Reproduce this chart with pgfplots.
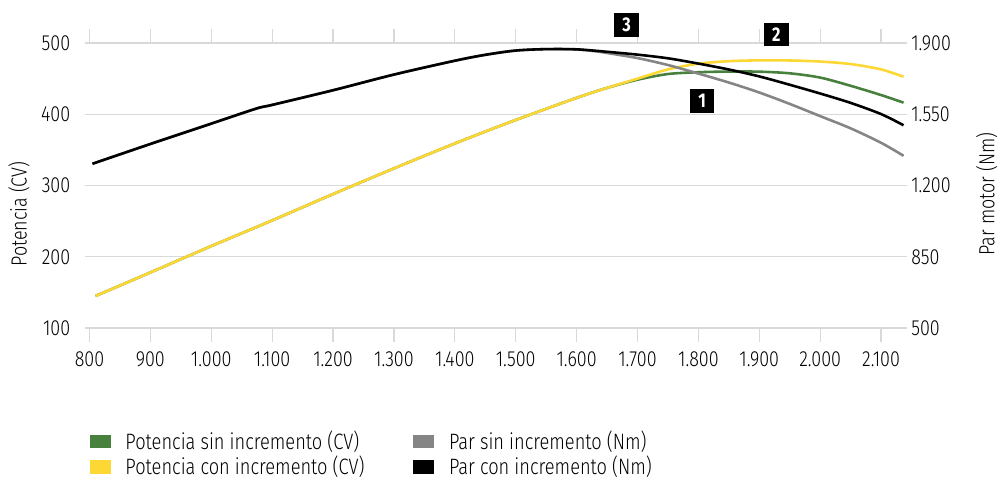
\documentclass[border=0pt]{standalone}
\usepackage{fontspec}
\setmainfont{Fira Sans Light}[FakeStretch=0.82, BoldFont={Fira Sans Bold}]
\usepackage{pgfplots}
\pgfplotsset{compat=1.18}

\definecolor{cgreen}{HTML}{48803E}
\definecolor{cyellow}{HTML}{FDD835}
\definecolor{cgray}{HTML}{858585}
\definecolor{cgrid}{HTML}{D9D9D9}

\begin{document}
\begin{tikzpicture}
\pgfplotsset{
  base/.style={
    width=413.6pt, height=143.4pt, scale only axis,
    xmin=793, xmax=2143,
    axis line style={draw=none},
    clip=false,
    tick label style={font=\fontsize{11}{13}\selectfont},
    label style={font=\fontsize{11}{13}\selectfont},
    /pgf/number format/1000 sep={.},
    /pgf/number format/assume math mode=true,
  },
}

% potencia (eje izquierdo)
\begin{axis}[base,
  ymin=100, ymax=500, ytick={100,200,300,400,500},
  ymajorgrids, grid style={draw=cgrid, line width=0.6pt},
  xtick={800,900,...,2100},
  tick align=outside, major tick length=7pt,
  xtick style={draw=cgrid, line width=0.6pt},
  ytick style={draw=none},
  yticklabel style={anchor=east, xshift=3pt},
  xticklabel style={yshift=-1.5pt},
  ylabel={Potencia (CV)},
  ylabel style={at={(axis description cs:-0.0806,0.40)}, anchor=center},
]
\path (rel axis cs:-0.1036,-0.509) rectangle (rel axis cs:1.110,1.151);

\addplot[cgreen, line width=1.3pt, smooth] coordinates {
  (810,145) (900,178) (1000,215) (1100,251) (1200,288) (1300,324)
  (1400,359) (1500,392) (1600,423) (1650,437) (1700,448.5) (1750,456.5)
  (1800,459) (1850,460) (1900,459.8) (1950,457.5) (2000,451.5)
  (2050,440) (2100,427) (2137,416.3)
};
\addplot[cyellow, line width=1.3pt, smooth] coordinates {
  (810,145) (900,178) (1000,215) (1100,251) (1200,288) (1300,324)
  (1400,359) (1500,392) (1600,423) (1650,437) (1700,450) (1750,463)
  (1800,471) (1850,474.5) (1900,475.7) (1950,475.5) (2000,474)
  (2050,470.5) (2100,463) (2137,452.6)
};

\node[fill=black, text=white, font=\bfseries\fontsize{10}{12}\selectfont,
  minimum width=12.5pt, minimum height=12pt, inner sep=0pt] at (axis cs:1682,525) {3};
\node[fill=black, text=white, font=\bfseries\fontsize{10}{12}\selectfont,
  minimum width=12.5pt, minimum height=12pt, inner sep=0pt] at (axis cs:1928,512) {2};
\node[fill=black, text=white, font=\bfseries\fontsize{10}{12}\selectfont,
  minimum width=12.5pt, minimum height=12pt, inner sep=0pt] at (axis cs:1806,419) {1};
\end{axis}

% par motor (eje derecho)
\begin{axis}[base,
  ymin=500, ymax=1900, ytick={500,850,1200,1550,1900},
  axis y line*=right, hide x axis,
  ytick style={draw=none},
  yticklabel style={anchor=west, xshift=-1.5pt},
  ylabel={Par motor (Nm)},
  ylabel style={at={(axis description cs:1.0967,0.471)}, anchor=center},
  legend columns=2,
  legend cell align=left,
  legend style={at={(rel axis cs:0.005,-0.344)}, anchor=north west,
    draw=none, fill=none, font=\fontsize{11.2}{13}\selectfont,
    inner sep=0pt, row sep=-2pt,
    /tikz/every even column/.append style={column sep=22.5pt}},
  legend image code/.code={\fill[#1, draw=none] (0pt,-3.4pt) rectangle (10.5pt,3.4pt);
    \path[draw=none] (0pt,0pt) -- (16pt,0pt);},
]
\addplot[cgray, line width=1.3pt, smooth, forget plot] coordinates {
  (805,1307) (900,1404) (1000,1504) (1074,1578) (1100,1596) (1200,1668)
  (1300,1745) (1400,1813) (1450,1842) (1500,1863) (1550,1870) (1600,1868)
  (1632,1859) (1650,1851) (1700,1826) (1750,1792) (1800,1750) (1850,1706)
  (1900,1657) (1950,1601) (2000,1541) (2050,1481) (2100,1410) (2137,1346)
};
\addplot[black, line width=1.3pt, smooth, forget plot] coordinates {
  (805,1307) (900,1404) (1000,1504) (1074,1578) (1100,1596) (1200,1668)
  (1300,1745) (1400,1813) (1450,1842) (1500,1863) (1550,1870) (1600,1869)
  (1650,1857) (1700,1843) (1750,1825) (1800,1799) (1850,1770) (1900,1736)
  (1950,1695) (2000,1652) (2050,1606) (2100,1551) (2137,1496)
};

\addlegendimage{cgreen}
\addlegendentry{Potencia sin incremento (CV)}
\addlegendimage{cgray}
\addlegendentry{Par sin incremento (Nm)}
\addlegendimage{cyellow}
\addlegendentry{Potencia con incremento (CV)}
\addlegendimage{black}
\addlegendentry{Par con incremento (Nm)}
\end{axis}
\end{tikzpicture}
\end{document}
